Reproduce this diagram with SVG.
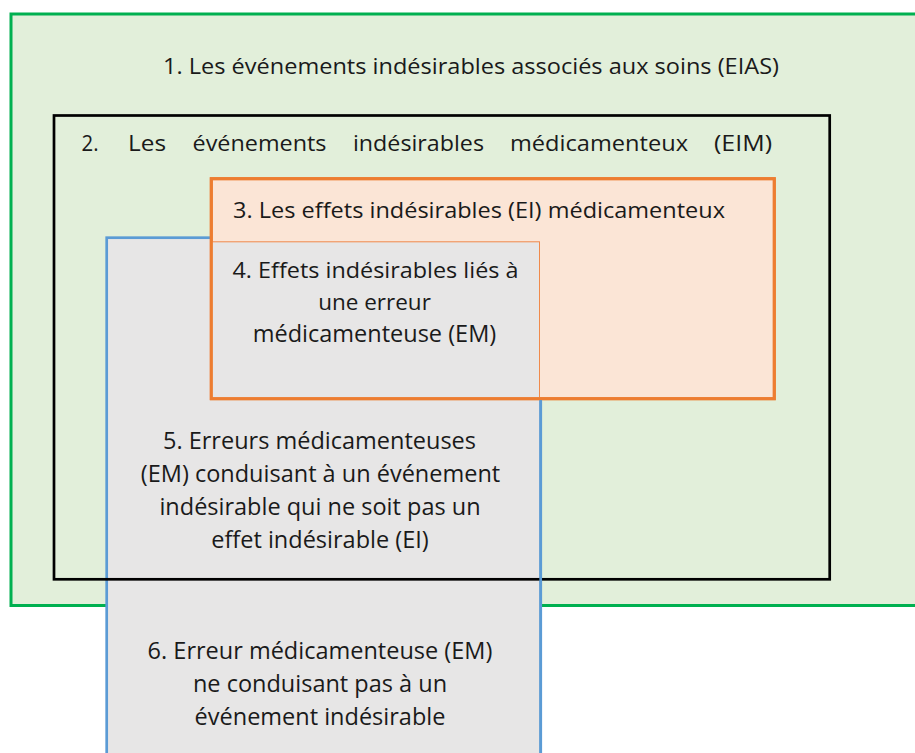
<svg xmlns="http://www.w3.org/2000/svg" width="915" height="753" viewBox="0 0 915 753">
<style>
  text { font-family: "Open Sans", "Noto Sans", "Liberation Sans", sans-serif; font-size: 22.5px; fill: #1a1a1a; font-variant-ligatures: none; }
  .c { text-anchor: middle; }
  .b { font-size: 23.5px; }
</style>
<rect width="915" height="753" fill="#ffffff"/>
<g id="eias">
  <rect x="11" y="14" width="930" height="591.5" fill="#e2efda" stroke="#00b050" stroke-width="3"/>
  <text class="c" x="471" y="74" textLength="616" lengthAdjust="spacingAndGlyphs">1. Les événements indésirables associés aux soins (EIAS)</text>
</g>
<g id="em-sans-ei">
  <rect x="106.7" y="237.7" width="434" height="530" fill="#e7e6e6" stroke="#5b9bd5" stroke-width="2.7"/>
</g>
<g id="eim">
  <rect x="54" y="115.5" width="775.7" height="463.8" fill="none" stroke="#000000" stroke-width="2.7"/>
  <text x="81.5" y="151" textLength="17" lengthAdjust="spacingAndGlyphs">2.</text>
  <text x="128" y="151" textLength="38" lengthAdjust="spacingAndGlyphs">Les</text>
  <text x="192.5" y="151" textLength="134" lengthAdjust="spacingAndGlyphs">événements</text>
  <text x="353" y="151" textLength="131" lengthAdjust="spacingAndGlyphs">indésirables</text>
  <text x="510" y="151" textLength="178" lengthAdjust="spacingAndGlyphs">médicamenteux</text>
  <text x="714" y="151" textLength="58" lengthAdjust="spacingAndGlyphs">(EIM)</text>
</g>
<g id="ei">
  <rect x="211.3" y="178.7" width="563" height="220" fill="#fbe5d6" stroke="#ed7d31" stroke-width="3"/>
  <text class="c" x="479" y="218" textLength="492" lengthAdjust="spacingAndGlyphs">3. Les effets indésirables (EI) médicamenteux</text>
</g>
<g id="ei-em">
  <rect x="212" y="241.8" width="327.5" height="156" fill="#e7e6e6" stroke="#f08a4b" stroke-width="1"/>
  <rect x="211.3" y="178.7" width="563" height="220" fill="none" stroke="#ed7d31" stroke-width="3"/>
  <line x1="540.7" y1="400.3" x2="540.7" y2="753" stroke="#5b9bd5" stroke-width="2.7"/>
  <text class="c" x="375.5" y="278" textLength="286" lengthAdjust="spacingAndGlyphs">4. Effets indésirables liés à</text>
  <text class="c" x="374.5" y="310">une erreur</text>
  <text class="c b" x="374.5" y="342">médicamenteuse (EM)</text>
</g>
<g id="em-ei-label">
  <text class="c b" x="319.5" y="449">5. Erreurs médicamenteuses</text>
  <text class="c b" x="320.5" y="482">(EM) conduisant à un événement</text>
  <text class="c b" x="320" y="515">indésirable qui ne soit pas un</text>
  <text class="c b" x="320" y="548">effet indésirable (EI)</text>
</g>
<g id="em-sans-ei-label">
  <text class="c b" x="320" y="659">6. Erreur médicamenteuse (EM)</text>
  <text class="c b" x="320" y="692">ne conduisant pas à un</text>
  <text class="c b" x="320" y="725">événement indésirable</text>
</g>
<g id="connectors"></g>
</svg>
